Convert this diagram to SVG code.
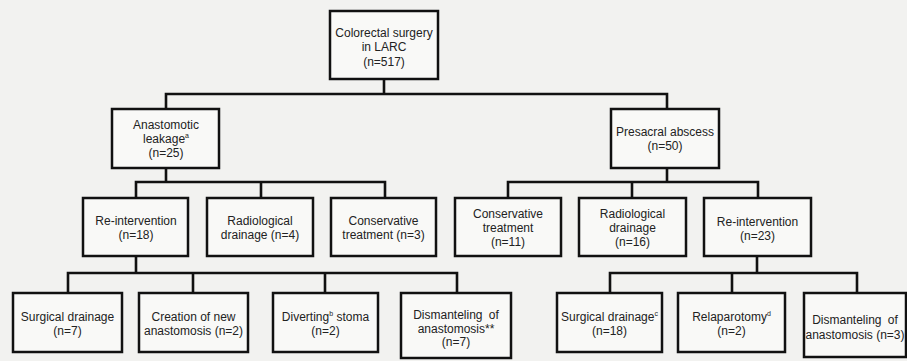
<svg xmlns="http://www.w3.org/2000/svg" width="907" height="361" viewBox="0 0 907 361">
<style>
.bg{fill:#f2f2f0}
.box{fill:#f9f9f7;stroke:#111;stroke-width:2.5}
.ln{stroke:#111;stroke-width:2.6;fill:none;stroke-linecap:square}
text{font-family:"Liberation Sans",Arial,sans-serif;font-size:12px;fill:#222;text-anchor:middle}
.sup{font-size:7px}
</style>
<rect class="bg" x="0" y="0" width="907" height="361"/>
<g id="connectors">
<path class="ln" d="M384,79V94M166,94H667M166,94V109M667,94V109"/>
<path class="ln" d="M166,168V182M136,182H385M136,182V198M261,182V198M385,182V198"/>
<path class="ln" d="M667,168V182M508,182H758M508,182V198M632,182V198M758,182V198"/>
<path class="ln" d="M136,256V273M68,273H457M68,273V293M193,273V293M325,273V293M457,273V293"/>
<path class="ln" d="M757,256V273M610,273H857M610,273V293M732,273V293M857,273V293"/>
</g>
<g id="n-root"><rect class="box" x="330" y="11" width="108" height="68"/>
<text x="384" y="36.5">Colorectal surgery</text><text x="384" y="51">in LARC</text><text x="384" y="65.5">(n=517)</text></g>
<g id="n-leak"><rect class="box" x="112" y="109" width="107" height="59"/>
<text x="166" y="129">Anastomotic</text><text x="166" y="143">leakage<tspan class="sup" dy="-5">a</tspan></text><text x="166" y="157">(n=25)</text></g>
<g id="n-abscess"><rect class="box" x="611" y="109" width="108" height="59"/>
<text x="665" y="136">Presacral abscess</text><text x="665" y="150">(n=50)</text></g>
<g id="n-reint18"><rect class="box" x="83" y="198" width="105" height="58"/>
<text x="136" y="225">Re-intervention</text><text x="136" y="239">(n=18)</text></g>
<g id="n-radio4"><rect class="box" x="207" y="198" width="106" height="58"/>
<text x="260" y="225">Radiological</text><text x="260" y="239">drainage (n=4)</text></g>
<g id="n-cons3"><rect class="box" x="331" y="198" width="105" height="58"/>
<text x="383.5" y="225">Conservative</text><text x="383.5" y="239">treatment (n=3)</text></g>
<g id="n-cons11"><rect class="box" x="455" y="198" width="106" height="58"/>
<text x="508" y="218">Conservative</text><text x="508" y="231.5">treatment</text><text x="508" y="246">(n=11)</text></g>
<g id="n-radio16"><rect class="box" x="579" y="198" width="107" height="58"/>
<text x="632.5" y="218">Radiological</text><text x="632.5" y="231.5">drainage</text><text x="632.5" y="246">(n=16)</text></g>
<g id="n-reint23"><rect class="box" x="704" y="198" width="107" height="58"/>
<text x="757.5" y="226">Re-intervention</text><text x="757.5" y="239.5">(n=23)</text></g>
<g id="n-surg7"><rect class="box" x="13" y="293" width="109" height="59"/>
<text x="67.5" y="321">Surgical drainage</text><text x="67.5" y="335">(n=7)</text></g>
<g id="n-new2"><rect class="box" x="139" y="293" width="109" height="59"/>
<text x="193.5" y="321">Creation of new</text><text x="193.5" y="335">anastomosis (n=2)</text></g>
<g id="n-div2"><rect class="box" x="273" y="293" width="105" height="59"/>
<text x="325.5" y="321">Diverting<tspan class="sup" dy="-5">b</tspan><tspan dy="5"> stoma</tspan></text><text x="325.5" y="335">(n=2)</text></g>
<g id="n-dism7"><rect class="box" x="401" y="293" width="110" height="65"/>
<text x="456" y="319" word-spacing="3">Dismanteling of</text><text x="456" y="332.5">anastomosis**</text><text x="456" y="346">(n=7)</text></g>
<g id="n-surg18"><rect class="box" x="557" y="293" width="105" height="59"/>
<text x="609.5" y="321">Surgical drainage<tspan class="sup" dy="-5">c</tspan></text><text x="609.5" y="335">(n=18)</text></g>
<g id="n-relap2"><rect class="box" x="678" y="293" width="107" height="59"/>
<text x="731.5" y="321">Relaparotomy<tspan class="sup" dy="-5">d</tspan></text><text x="731.5" y="335">(n=2)</text></g>
<g id="n-dism3"><rect class="box" x="804" y="293" width="102" height="64"/>
<text x="855" y="324" word-spacing="3">Dismanteling of</text><text x="855" y="339">anastomosis (n=3)</text></g>
</svg>
